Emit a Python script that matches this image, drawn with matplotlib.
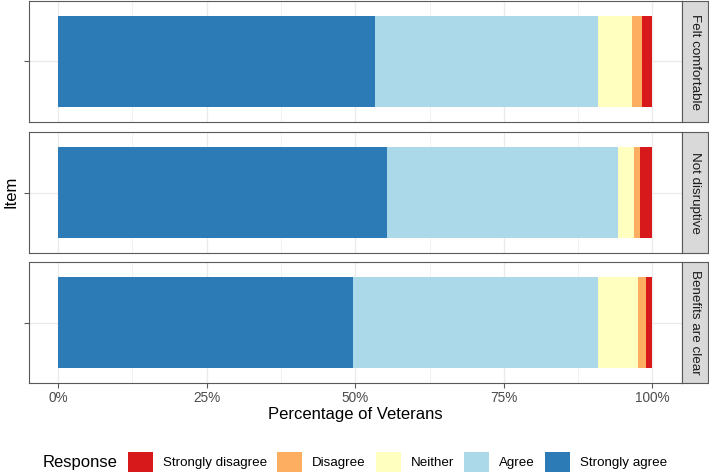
import numpy as np
import matplotlib.pyplot as plt
from matplotlib.patches import Patch
from matplotlib.ticker import FixedLocator, FuncFormatter

plt.rcParams['font.family'] = ['Liberation Sans', 'DejaVu Sans']

# Data (percent of veterans per item)
items = ["Felt comfortable", "Not disruptive", "Benefits are clear"]
levels = ["Strongly disagree", "Disagree", "Neither", "Agree", "Strongly agree"]
strongly_disagree = [1.8, 2.0, 1.1]
disagree = [1.7, 1.0, 1.3]
neither = [5.7, 2.8, 6.7]
agree = [37.5, 38.9, 41.2]
strongly_agree = [53.3, 55.3, 49.7]
colors = ["#d7191c", "#fdae61", "#ffffbf", "#abd9e9", "#2c7bb6"]
x_breaks = [0, 25, 50, 75, 100]

W, H = 709, 476
fig = plt.figure(figsize=(W / 100, H / 100), dpi=100)


# axes position from pixel box (left, top, right, bottom)
def box(x0, y0, x1, y1):
    return [x0 / W, 1 - y1 / H, (x1 - x0) / W, (y1 - y0) / H]


border = "#595959"
panels = [(1, 122), (132, 253), (262, 383)]
series = [strongly_agree, agree, neither, disagree, strongly_disagree]
series_colors = colors[::-1]

for i, item in enumerate(items):
    top, bottom = panels[i]
    ax = fig.add_axes(box(28.5, top, 682, bottom))
    left = 0.0
    for vals, col in zip(series, series_colors):
        ax.barh(1, vals[i], left=left, height=0.9, color=col, zorder=2)
        left += vals[i]
    ax.set_xlim(-5, 105)
    ax.set_ylim(0.4, 1.6)
    ax.set_yticks([1])
    ax.set_yticklabels([""])
    ax.xaxis.set_major_locator(FixedLocator(x_breaks))
    ax.xaxis.set_minor_locator(FixedLocator([12.5, 37.5, 62.5, 87.5]))
    ax.grid(which="major", color="#ebebeb", lw=1.0, zorder=0)
    ax.grid(which="minor", axis="x", color="#ebebeb", lw=0.5, zorder=0)
    ax.set_axisbelow(True)
    for s in ax.spines.values():
        s.set_color(border)
        s.set_linewidth(0.8)
    ax.tick_params(axis="both", which="major", length=3.5, width=0.8, color=border)
    ax.tick_params(axis="x", which="minor", length=0)
    if i < len(items) - 1:
        ax.tick_params(axis="x", which="major", length=0, labelbottom=False)
    else:
        ax.xaxis.set_major_formatter(FuncFormatter(lambda v, p: f"{v:.0f}%"))
        ax.tick_params(axis="x", labelsize=9.8, labelcolor="#4d4d4d", pad=2.5)

    # facet strip on the right
    sx = fig.add_axes(box(682, top, 708.5, bottom))
    sx.set_facecolor("#d9d9d9")
    sx.set_xticks([])
    sx.set_yticks([])
    for s in sx.spines.values():
        s.set_color(border)
        s.set_linewidth(0.8)
    sx.text(0.5, 0.5, item, rotation=-90, ha="center", va="center",
            fontsize=9.6, color="#1a1a1a", transform=sx.transAxes)

fig.text(355 / W, 1 - 415 / H, "Percentage of Veterans", ha="center", va="center",
         fontsize=12, color="black")
fig.text(11 / W, 1 - 192 / H, "Item", ha="center", va="center", rotation=90,
         fontsize=12, color="black")

# legend at the bottom
handles = [Patch(facecolor=c, edgecolor="none") for c in colors]
fig.text(43 / W, 1 - 462 / H, "Response", ha="left", va="center", fontsize=12)
fig.legend(handles, levels, ncol=5, loc="center",
           bbox_to_anchor=(397.5 / W, 1 - 462 / H), frameon=False,
           fontsize=9.6, handlelength=1.88, handleheight=1.88,
           handletextpad=0.75, columnspacing=0.75, borderpad=0, borderaxespad=0)

fig.savefig("out.png", dpi=100)
